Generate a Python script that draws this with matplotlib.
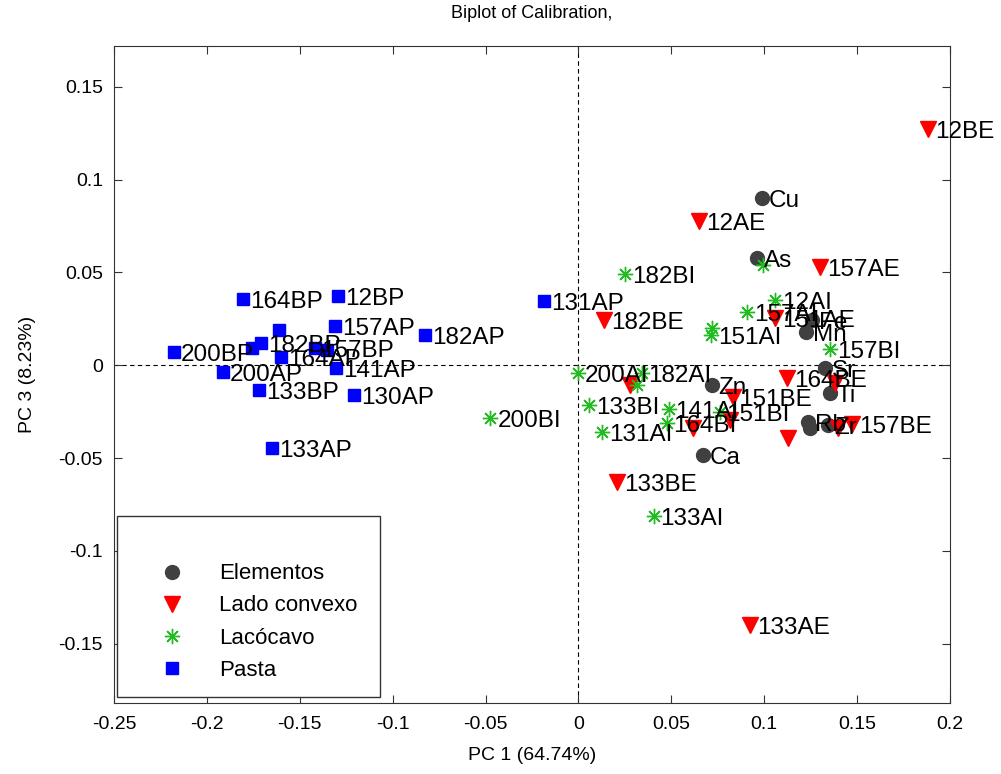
import matplotlib.pyplot as plt
from matplotlib.patches import Rectangle

plt.rcParams['font.family'] = ['Liberation Sans', 'DejaVu Sans']

# Elementos (scores)
elem_names = ['Cu', 'As', 'Fe', 'Mn', 'Sr', 'Ti', 'Zn', 'Rb', '', 'Zr', 'Ca']
elem_x = [0.0987, 0.0960, 0.1256, 0.1224, 0.1326, 0.1353, 0.0717, 0.1235, 0.1245, 0.1342, 0.0668]
elem_y = [0.0900, 0.0577, 0.0243, 0.0178, -0.0016, -0.0151, -0.0108, -0.0307, -0.0340, -0.0323, -0.0485]

# Lado convexo
conv_names = ['12BE', '12AE', '157AE', '182BE', '151AE', '164BE', '', '151BE', '', '', '',
              '', '157BE', '', '133BE', '133AE']
conv_x = [0.1881, 0.0647, 0.1300, 0.0140, 0.1057, 0.1121, 0.1380, 0.0830, 0.0275, 0.0615, 0.0814,
          0.1396, 0.1472, 0.1127, 0.0210, 0.0922]
conv_y = [0.1272, 0.0776, 0.0528, 0.0243, 0.0253, -0.0070, -0.0097, -0.0172, -0.0108, -0.0340, -0.0297,
          -0.0340, -0.0318, -0.0394, -0.0630, -0.1400]

# Lacocavo
conc_names = ['182BI', '', '12AI', '157AI', '151AI', '', '157BI', '200AI', '182AI', '',
              '133BI', '131AI', '141AI', '164BI', '151BI', '200BI', '133AI']
conc_x = [0.0253, 0.0992, 0.1057, 0.0906, 0.0712, 0.0717, 0.1353, -0.0005, 0.0340, 0.0313,
          0.0059, 0.0129, 0.0485, 0.0474, 0.0760, -0.0474, 0.0404]
conc_y = [0.0490, 0.0540, 0.0350, 0.0286, 0.0162, 0.0200, 0.0086, -0.0043, -0.0043, -0.0108,
          -0.0216, -0.0360, -0.0237, -0.0313, -0.0253, -0.0286, -0.0814]

# Pasta
pasta_names = ['164BP', '12BP', '131AP', '157AP', '182AP', '200BP', '', '182BP', '', '164AP',
               '157BP', '', '141AP', '200AP', '133BP', '130AP', '133AP']
pasta_x = [-0.1806, -0.1294, -0.0183, -0.1310, -0.0825, -0.2178, -0.1757, -0.1710, -0.1610, -0.1600,
           -0.1420, -0.1353, -0.1305, -0.1914, -0.1720, -0.1208, -0.1650]
pasta_y = [0.0356, 0.0372, 0.0345, 0.0210, 0.0162, 0.0070, 0.0092, 0.0119, 0.0189, 0.0043,
           0.0092, 0.0081, -0.0016, -0.0038, -0.0135, -0.0162, -0.0447]

fig = plt.figure(figsize=(10.01, 7.74), dpi=100)
ax = fig.add_axes([0.1139, 0.0917, 0.8352, 0.8489])

ax.axhline(0, color='black', ls='--', lw=0.8, dashes=(4, 3), zorder=1)
ax.axvline(0, color='black', ls='--', lw=0.8, dashes=(4, 3), zorder=1)

ax.plot(elem_x, elem_y, 'o', color='#404040', ms=10, mec='#404040', label='Elementos', zorder=3)
ax.plot(conv_x, conv_y, 'v', color='red', ms=11, mec='red', label='Lado convexo', zorder=3)
ax.plot(conc_x, conc_y, marker=(8, 2, 0), ls='none', color='#22bb22', ms=11, mew=1.0,
        label='Lacócavo', zorder=3)
ax.plot(pasta_x, pasta_y, 's', color='blue', ms=8.5, mec='blue', label='Pasta', zorder=3)

for names, xs, ys in [(elem_names, elem_x, elem_y), (conv_names, conv_x, conv_y),
                      (conc_names, conc_x, conc_y), (pasta_names, pasta_x, pasta_y)]:
    for n, x, y in zip(names, xs, ys):
        if n:
            ax.annotate(n, (x, y), xytext=(5, -2), textcoords='offset points',
                        fontsize=17.5, va='center', ha='left', zorder=4)

ax.set_xlim(-0.25, 0.2)
ax.set_ylim(-0.182, 0.172)
ax.set_xticks([-0.25, -0.2, -0.15, -0.1, -0.05, 0, 0.05, 0.1, 0.15, 0.2])
ax.set_xticklabels(['-0.25', '-0.2', '-0.15', '-0.1', '-0.05', '0', '0.05', '0.1', '0.15', '0.2'])
ax.set_yticks([-0.15, -0.1, -0.05, 0, 0.05, 0.1, 0.15])
ax.set_yticklabels(['-0.15', '-0.1', '-0.05', '0', '0.05', '0.1', '0.15'])
ax.tick_params(direction='in', top=True, right=True, labelsize=14, length=6, color='#333333')
ax.tick_params(axis='y', pad=8)
ax.tick_params(axis='x', pad=9.5)
for s in ax.spines.values():
    s.set_color('#333333')

ax.set_xlabel('PC 1 (64.74%)', fontsize=14, labelpad=10)
ax.set_ylabel('PC 3 (8.23%)', fontsize=14, labelpad=16)
ax.set_title('Biplot of Calibration,', fontsize=13, pad=20)

# legend box (frame drawn separately so it can be larger than the entries)
ax.add_patch(Rectangle((0.0036, 0.009), 0.3146, 0.2756, transform=ax.transAxes,
                       facecolor='white', edgecolor='#333333', lw=1.0, zorder=5))
leg = ax.legend(loc='center left', bbox_to_anchor=(0.0167, 0.1233), fontsize=16, frameon=False,
                borderpad=0, labelspacing=0.5, handletextpad=0.1, borderaxespad=0,
                handlelength=4)
leg.set_zorder(6)

plt.savefig('out.png', dpi=100)
